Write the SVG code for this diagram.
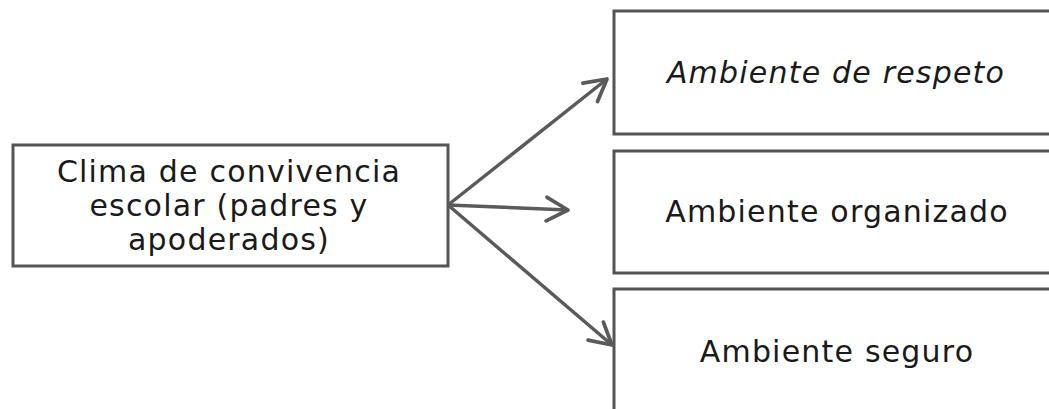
<svg xmlns="http://www.w3.org/2000/svg" width="1049" height="409" viewBox="0 0 1049 409">
<style>
.box{fill:#fff;stroke:#555;stroke-width:3}
.t{font-family:"DejaVu Sans",Verdana,sans-serif;font-size:30px;letter-spacing:1.2px;fill:#1a1a1a;text-anchor:middle}
.it{font-style:italic}
.c{stroke:#5a5a5a;stroke-width:3.5;fill:none}
</style>
<defs>
<marker id="ah" markerUnits="userSpaceOnUse" markerWidth="30" markerHeight="30" viewBox="-24 -14 28 28" refX="0" refY="0" orient="auto">
<path d="M-20,-11 L0,0 L-20,11" fill="none" stroke="#5a5a5a" stroke-width="3.5" stroke-linecap="round" stroke-linejoin="round"/>
</marker>
</defs>
<rect width="1049" height="409" fill="#fff"/>
<g id="n0"><rect class="box" x="13" y="145" width="435" height="121"/>
<text class="t" x="229" y="182">Clima de convivencia</text>
<text class="t" x="229" y="216">escolar (padres y</text>
<text class="t" x="229" y="250">apoderados)</text></g>
<g id="n1"><rect class="box" x="614" y="11" width="450" height="123"/>
<text class="t it" x="836" y="83">Ambiente de respeto</text></g>
<g id="n2"><rect class="box" x="614" y="151" width="450" height="122"/>
<text class="t" x="837" y="222">Ambiente organizado</text></g>
<g id="n3"><rect class="box" x="614" y="289" width="450" height="140"/>
<text class="t" x="837" y="362">Ambiente seguro</text></g>
<g id="connectors">
<line class="c" x1="448" y1="205" x2="607" y2="79" marker-end="url(#ah)"/>
<line class="c" x1="448" y1="205" x2="568" y2="210" marker-end="url(#ah)"/>
<line class="c" x1="448" y1="205" x2="612" y2="345" marker-end="url(#ah)"/>
</g>
</svg>
